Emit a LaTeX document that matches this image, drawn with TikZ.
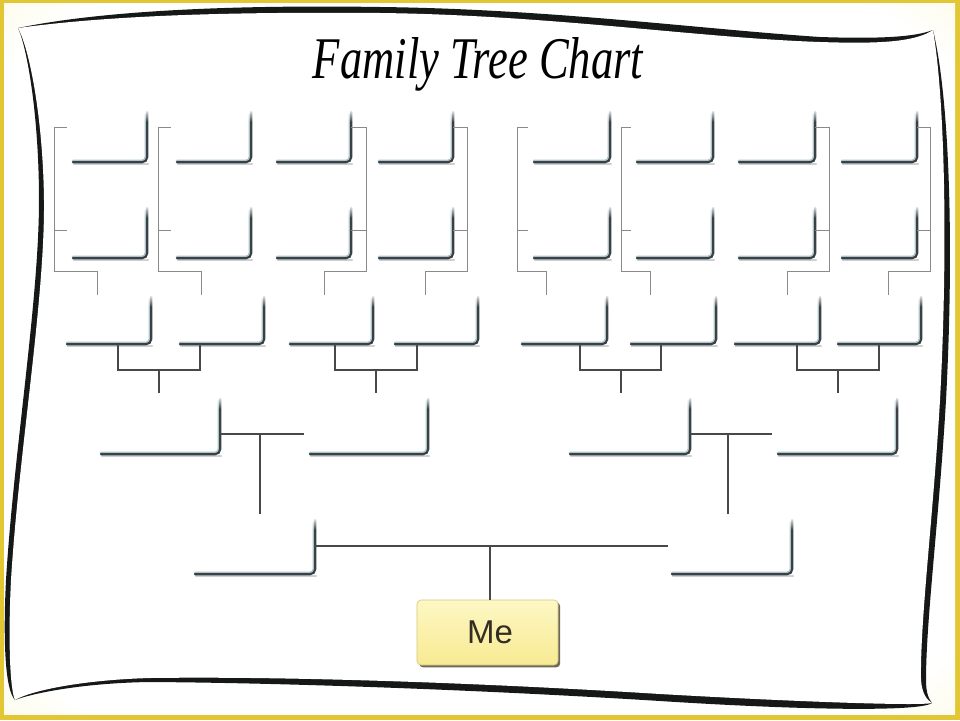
\documentclass[tikz,border=0pt]{standalone}
\usepackage{fontspec}
\usepackage{graphicx}
\setmainfont{Liberation Serif}
\newfontfamily\arialf{Liberation Sans}
\usetikzlibrary{calc,shadows,fadings}

\definecolor{gold}{RGB}{226,198,52}
\definecolor{bgyelA}{RGB}{250,243,188}
\definecolor{bgyelM}{RGB}{248,238,168}
\definecolor{bgyelB}{RGB}{245,230,140}
\definecolor{edgedk}{RGB}{58,64,68}
\definecolor{edgelt}{RGB}{170,196,202}
\definecolor{edgesh}{RGB}{204,208,210}
\definecolor{conn}{RGB}{72,72,72}
\definecolor{brk}{RGB}{138,138,138}
\definecolor{meyel}{RGB}{248,234,146}
\definecolor{meyeltop}{RGB}{253,247,196}
\definecolor{meshadow}{RGB}{84,78,62}
\definecolor{metext}{RGB}{52,46,34}
\definecolor{frameblk}{RGB}{22,24,24}

\pgfdeclareradialshading{bgshade}{\pgfpoint{0bp}{0bp}}{color(0bp)=(white); color(32bp)=(white); color(45bp)=(bgyelA); color(55bp)=(bgyelM); color(72bp)=(bgyelB)}

\newcommand\famBox[5]{%
  \node[pb, minimum width={#4pt-#2pt}, minimum height={#5pt-#3pt}] (#1) at ({(#2+#4)/2},{(#3+#5)/2}) {};
  \draw[edgeshadow] ([xshift=5pt,yshift=-1.6pt]#1.south west) -- ([xshift=1pt,yshift=-1.6pt]#1.south east);
  \draw[edgelight] ([xshift=4pt,yshift=1.4pt]#1.south west) -- ([xshift=-1.4pt,yshift=1.4pt]#1.south east) -- ([xshift=-1.4pt,yshift=-4pt]#1.north east);
  \draw[edgedark] ([xshift=4pt]#1.south west) -- (#1.south east) -- ([yshift=-2pt]#1.north east);
  \fill[white,path fading=south] ([xshift=-4pt,yshift=1pt]#1.north east) rectangle ([xshift=3pt,yshift=-12pt]#1.north east);
}

\begin{document}
\begin{tikzpicture}[x=1pt,y=-1pt,
  pb/.style={rectangle,inner sep=0pt,draw=none,fill=none},
  edgedark/.style={draw=edgedk,line width=2.1pt,rounded corners=5pt,line cap=round},
  edgelight/.style={draw=edgelt,line width=2.2pt,rounded corners=4pt,line cap=round},
  edgeshadow/.style={draw=edgesh,line width=1.6pt,line cap=round},
  bracketline/.style={draw=brk,line width=0.9pt},
  connline/.style={draw=conn,line width=1.6pt},
  mebox/.style={rectangle,rounded corners=4pt,inner sep=0pt,top color=meyeltop,bottom color=meyel,draw=meyel!85!black,line width=0.6pt,
    drop shadow={shadow xshift=2.2pt,shadow yshift=-2.4pt,fill=meshadow,opacity=0.85}},
  titlenode/.style={inner sep=0pt,anchor=base}
]
\useasboundingbox (0,0) rectangle (960,720);
% background
\fill[gold] (0,0) rectangle (960,720);
\shade[shading=bgshade] (4,3) rectangle (955,714);

% page frame (black band then white page)
\fill[frameblk] (18,28) .. controls (110,9) and (250,5) .. (380,7) .. controls (550,9) and (700,29) .. (820,37) .. controls (880,39) and (915,37) .. (933,30)
  .. controls (950,100) and (954,250) .. (946,400) .. controls (939,520) and (926,620) .. (926,680) .. controls (926,694) and (929,699) .. (932,703)
  .. controls (920,712) and (800,710) .. (660,701) .. controls (500,691) and (300,683) .. (150,682) .. controls (80,683) and (30,694) .. (15,700)
  .. controls (5,690) and (3,640) .. (6,580) .. controls (14,450) and (39,300) .. (39,200) .. controls (39,120) and (28,50) .. (18,28) -- cycle;
\fill[white] (18,28) .. controls (120,14) and (250,12) .. (380,13) .. controls (550,15) and (700,38) .. (820,42) .. controls (880,44) and (915,42) .. (933,30)
  .. controls (945,100) and (948,250) .. (940,400) .. controls (933,520) and (920,620) .. (921,680) .. controls (922,694) and (927,700) .. (932,703)
  .. controls (920,706) and (800,702) .. (660,694) .. controls (500,684) and (300,676) .. (150,678) .. controls (80,680) and (30,691) .. (15,700)
  .. controls (10,690) and (8,640) .. (11,580) .. controls (19,450) and (45,300) .. (44,200) .. controls (43,120) and (30,50) .. (18,28) -- cycle;

% title
\node[titlenode] (title) at (478,78) {\resizebox{330pt}{41pt}{\itshape Family Tree Chart}};

% row 1
\famBox{a1}{69}{110}{147}{162}
\famBox{a2}{173}{110}{251}{162}
\famBox{a3}{273}{110}{351}{162}
\famBox{a4}{375}{110}{453}{162}
\famBox{a5}{530}{110}{610}{162}
\famBox{a6}{633}{110}{713}{162}
\famBox{a7}{735}{110}{815}{162}
\famBox{a8}{838}{110}{917}{162}
% row 2
\famBox{b1}{69}{206}{147}{258}
\famBox{b2}{173}{206}{251}{258}
\famBox{b3}{273}{206}{351}{258}
\famBox{b4}{375}{206}{453}{258}
\famBox{b5}{530}{206}{610}{258}
\famBox{b6}{633}{206}{713}{258}
\famBox{b7}{735}{206}{815}{258}
\famBox{b8}{838}{206}{917}{258}
% row 3
\famBox{c1}{63}{295}{151}{344}
\famBox{c2}{176}{295}{264}{344}
\famBox{c3}{286}{295}{373}{344}
\famBox{c4}{391}{295}{478}{344}
\famBox{c5}{518}{295}{607}{344}
\famBox{c6}{627}{295}{716}{344}
\famBox{c7}{731}{295}{820}{344}
\famBox{c8}{834}{295}{921}{344}
% row 4
\famBox{d1}{97}{397}{220}{454}
\famBox{d2}{306}{397}{428}{454}
\famBox{d3}{566}{397}{690}{454}
\famBox{d4}{774}{397}{897}{454}
% row 5
\famBox{e1}{191}{518}{315}{574}
\famBox{e2}{668}{518}{792}{574}
% me
\node[mebox, minimum width=141pt, minimum height=65pt] (me) at (487.5,632.5) {\hspace*{5pt}\arialf\fontsize{33}{36}\selectfont\color{metext}Me};

% brackets rows 1-2 -> row 3 (left type)
\draw[bracketline] ([xshift=-2pt]a1.west |- 0,127) -| (54,271) -| (c1.north -| 97,0);
\draw[bracketline] (54,230) -- ([xshift=-2pt]b1.west |- 0,230);
\draw[bracketline] ([xshift=-2pt]a2.west |- 0,127) -| (158,271) -| (c2.north -| 201,0);
\draw[bracketline] (158,230) -- ([xshift=-2pt]b2.west |- 0,230);
\draw[bracketline] ([xshift=-2pt]a5.west |- 0,127) -| (517,271) -| (c5.north -| 546,0);
\draw[bracketline] (517,230) -- ([xshift=-2pt]b5.west |- 0,230);
\draw[bracketline] ([xshift=-2pt]a6.west |- 0,127) -| (621,271) -| (c6.north -| 650,0);
\draw[bracketline] (621,230) -- ([xshift=-2pt]b6.west |- 0,230);
% brackets (right type)
\draw[bracketline] (a3.east |- 0,127) -| (366,271) -| (c3.north -| 324,0);
\draw[bracketline] (366,230) -- (b3.east |- 0,230);
\draw[bracketline] (a4.east |- 0,127) -| (467,271) -| (c4.north -| 425,0);
\draw[bracketline] (467,230) -- (b4.east |- 0,230);
\draw[bracketline] (a7.east |- 0,127) -| (829,271) -| (c7.north -| 787,0);
\draw[bracketline] (829,230) -- (b7.east |- 0,230);
\draw[bracketline] (a8.east |- 0,127) -| (930,271) -| (c8.north -| 888,0);
\draw[bracketline] (930,230) -- (b8.east |- 0,230);

% row 3 -> row 4
\draw[connline] (c1.south -| 118,0) -- (118,370) -| (c2.south -| 200,0);
\draw[connline] (159,370) -- ([yshift=4pt]d1.north -| 159,0);
\draw[connline] (c3.south -| 335,0) -- (335,370) -| (c4.south -| 417,0);
\draw[connline] (376,370) -- ([yshift=4pt]d2.north -| 376,0);
\draw[connline] (c5.south -| 580,0) -- (580,370) -| (c6.south -| 661,0);
\draw[connline] (621,370) -- ([yshift=4pt]d3.north -| 621,0);
\draw[connline] (c7.south -| 797,0) -- (797,370) -| (c8.south -| 879,0);
\draw[connline] (838,370) -- ([yshift=4pt]d4.north -| 838,0);

% row 4 -> row 5
\draw[connline] (d1.east |- 0,434) -- ([xshift=-2pt]d2.west |- 0,434);
\draw[connline] (260,434) -- ([yshift=4pt]e1.north -| 260,0);
\draw[connline] (d3.east |- 0,434) -- ([xshift=-2pt]d4.west |- 0,434);
\draw[connline] (728,434) -- ([yshift=4pt]e2.north -| 728,0);

% row 5 -> me
\draw[connline] (e1.east |- 0,546) -- (e2.west |- 0,546);
\draw[connline] (490,546) -- (me.north -| 490,0);
\end{tikzpicture}
\end{document}
